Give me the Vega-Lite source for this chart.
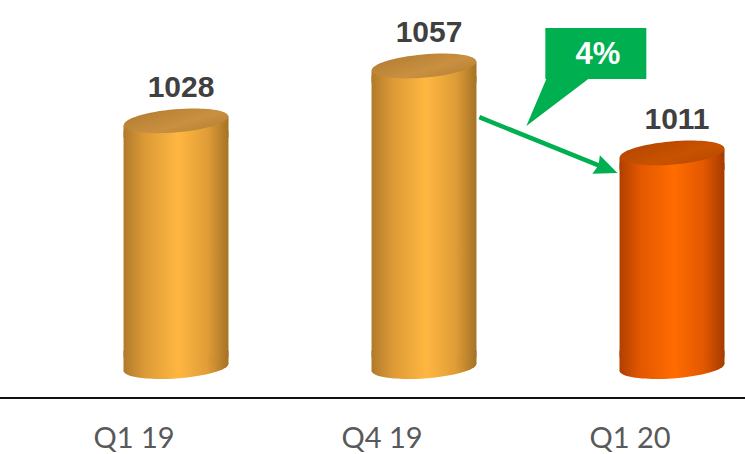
{
  "$schema": "https://vega.github.io/schema/vega-lite/v6.json",
  "width": 745,
  "height": 454,
  "autosize": "none",
  "padding": 0,
  "background": "#ffffff",
  "config": {"view": {"stroke": null}},
  "data": {"values": [
    {"q": "Q1 19", "v": 1028, "current": false},
    {"q": "Q4 19", "v": 1057, "current": false},
    {"q": "Q1 20", "v": 1011, "current": true}
  ]},
  "encoding": {
    "x": {"field": "q", "type": "nominal", "sort": null, "axis": null,
      "scale": {"range": [52, 796], "paddingInner": 0.577, "paddingOuter": 0.2885}},
    "y": {"field": "v", "type": "quantitative", "axis": null,
      "scale": {"domain": [851.8, 1091.9], "nice": false, "zero": false}},
    "fill": {
      "condition": {"test": "datum.current", "value": {"gradient": "linear", "x1": 0, "y1": 0, "x2": 1, "y2": 0, "stops": [
        {"offset": 0, "color": "#b04000"}, {"offset": 0.2, "color": "#e35800"}, {"offset": 0.52, "color": "#ff6c00"}, {"offset": 0.8, "color": "#e35800"}, {"offset": 1, "color": "#a53b00"}]}},
      "value": {"gradient": "linear", "x1": 0, "y1": 0, "x2": 1, "y2": 0, "stops": [
        {"offset": 0, "color": "#b07a2c"}, {"offset": 0.2, "color": "#dc9a36"}, {"offset": 0.52, "color": "#ffb741"}, {"offset": 0.8, "color": "#e09d37"}, {"offset": 1, "color": "#a57226"}]}
    }
  },
  "layer": [
    {
      "mark": {"type": "bar", "strokeWidth": 0, "yOffset": 10, "y2Offset": -10},
      "encoding": {"y2": {"datum": 897.6}}
    },
    {
      "mark": {"type": "point", "filled": true, "opacity": 1, "strokeWidth": 0, "size": 11025,
        "shape": "M -1 -0.32 L 1 -0.32 L 1 -0.07 L -1 0.07 Z"},
      "encoding": {"y": {"datum": 897.6}}
    },
    {
      "mark": {"type": "point", "filled": true, "opacity": 1, "strokeWidth": 0, "size": 11025, "angle": -4,
        "shape": "M -1 0 C -1 -0.116 -0.552 -0.21 0 -0.21 C 0.552 -0.21 1 -0.116 1 0 C 1 0.116 0.552 0.21 0 0.21 C -0.552 0.21 -1 0.116 -1 0 Z"},
      "encoding": {"y": {"datum": 897.6}}
    },
    {
      "mark": {"type": "point", "filled": true, "opacity": 1, "strokeWidth": 0, "size": 11025,
        "shape": "M -1 0.087 L 1 -0.087 L 1 0.32 L -1 0.32 Z"}
    },
    {
      "mark": {"type": "point", "filled": true, "opacity": 1, "strokeWidth": 0, "size": 11025, "angle": -5,
        "shape": "M -1 0 C -1 -0.122 -0.552 -0.22 0 -0.22 C 0.552 -0.22 1 -0.122 1 0 C 1 0.122 0.552 0.22 0 0.22 C -0.552 0.22 -1 0.122 -1 0 Z"},
      "encoding": {
        "fill": {
          "condition": {"test": "datum.current", "value": {"gradient": "linear", "x1": 0, "y1": 0, "x2": 1, "y2": 1, "stops": [
            {"offset": 0, "color": "#b44600"}, {"offset": 0.6, "color": "#c85200"}, {"offset": 1, "color": "#b84800"}]}},
          "value": {"gradient": "linear", "x1": 0, "y1": 0, "x2": 1, "y2": 1, "stops": [
            {"offset": 0, "color": "#b37c30"}, {"offset": 0.6, "color": "#c99040"}, {"offset": 1, "color": "#b68032"}]}
        }
      }
    },
    {
      "mark": {"type": "text", "font": "Liberation Sans", "fontWeight": "bold", "fontSize": 30, "color": "#404040", "dy": -33, "dx": 5, "baseline": "middle"},
      "encoding": {"text": {"field": "v"}, "fill": null}
    },
    {
      "mark": {"type": "text", "font": "Lato", "fontSize": 29, "color": "#595959", "dx": -42, "baseline": "alphabetic"},
      "encoding": {"y": {"datum": 855.0}, "text": {"field": "q"}, "fill": null}
    },
    {
      "data": {"values": [{"base": 881.4}]},
      "mark": {"type": "rule", "color": "#111111", "strokeWidth": 2},
      "encoding": {"x": null, "fill": null, "y": {"field": "base", "type": "quantitative"}}
    },
    {
      "data": {"values": [{"from": "Q4 19", "to": "Q1 20", "endY": 1000.4, "boxY": 1063.6, "change": "4%"}]},
      "encoding": {"fill": null},
      "layer": [
        {
          "mark": {"type": "point", "filled": true, "opacity": 1, "strokeWidth": 0, "size": 10000, "angle": 22, "color": "#00b050",
            "shape": "M 0 0 L -0.46 -0.2 L -0.42 -0.045 L -2.98 -0.045 L -2.98 0.045 L -0.42 0.045 L -0.46 0.2 Z"},
          "encoding": {
            "x": {"field": "to", "type": "nominal", "bandPosition": -0.02},
            "y": {"field": "endY", "type": "quantitative"}
          }
        },
        {
          "mark": {"type": "point", "filled": true, "opacity": 1, "strokeWidth": 0, "size": 10201, "color": "#00b050",
            "shape": "M -1 -0.505 L 1 -0.505 L 1 0.505 L -0.149 0.505 L -1.376 1.436 L -0.98 0.505 L -1 0.505 Z"},
          "encoding": {
            "x": {"field": "from", "type": "nominal", "bandPosition": 2.138},
            "y": {"field": "boxY", "type": "quantitative"}
          }
        },
        {
          "mark": {"type": "text", "font": "Liberation Sans", "fontWeight": "bold", "fontSize": 31, "color": "#ffffff", "baseline": "middle", "dx": 2, "dy": 1},
          "encoding": {
            "x": {"field": "from", "type": "nominal", "bandPosition": 2.138},
            "y": {"field": "boxY", "type": "quantitative"},
            "text": {"field": "change"}
          }
        }
      ]
    }
  ]
}
